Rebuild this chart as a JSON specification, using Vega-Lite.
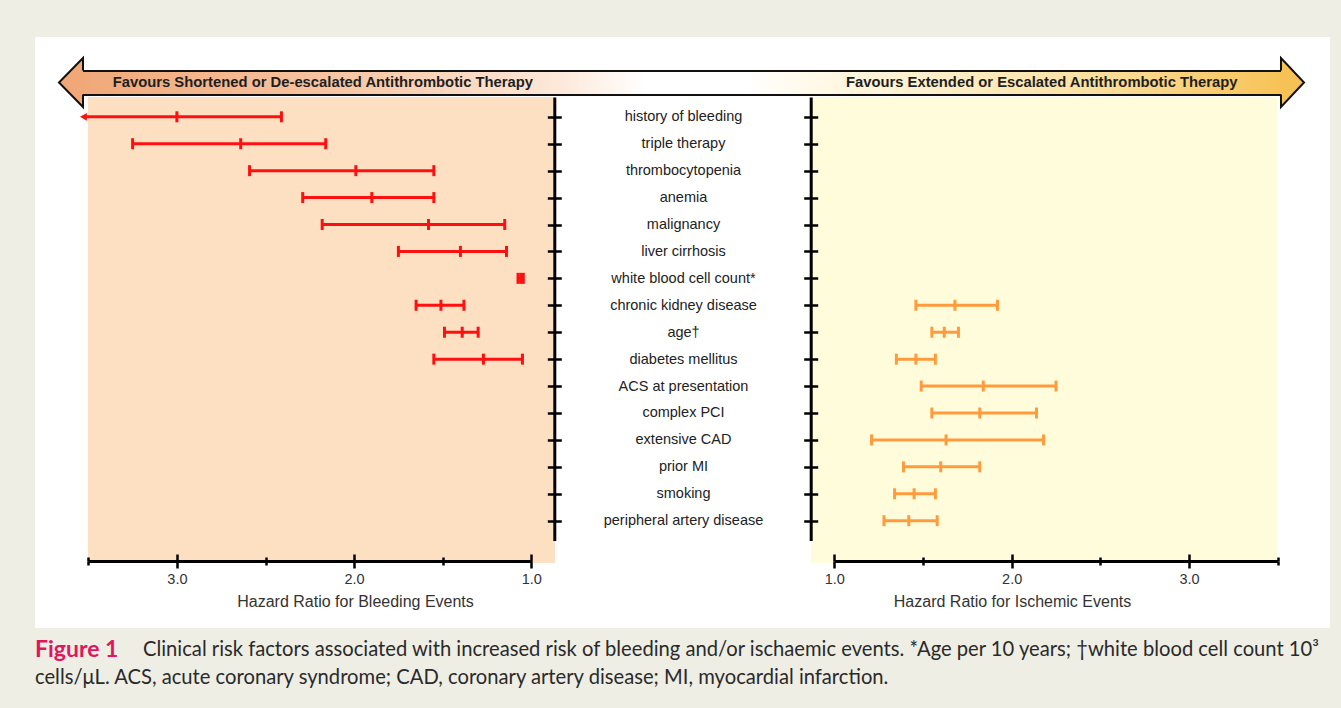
{
  "$schema": "https://vega.github.io/schema/vega-lite/v6.json",
  "width": 1295,
  "height": 591,
  "autosize": {"type": "none"},
  "padding": {"left": 35, "top": 37, "right": 11, "bottom": 80},
  "background": "#EEEEE5",
  "config": {
    "view": {"fill": "white", "stroke": null},
    "font": "Liberation Sans",
    "axis": {"grid": false, "labelFont": "Liberation Sans", "titleFont": "Liberation Sans", "labelOverlap": false, "labelFlush": false}
  },
  "data": {
    "values": [
      {"factor": "history of bleeding", "outcome": "bleeding", "hr": 3.0, "lower": 2.41, "upper": 3.53, "upper_offscale": true},
      {"factor": "triple therapy", "outcome": "bleeding", "hr": 2.64, "lower": 2.16, "upper": 3.25},
      {"factor": "thrombocytopenia", "outcome": "bleeding", "hr": 1.99, "lower": 1.55, "upper": 2.59},
      {"factor": "anemia", "outcome": "bleeding", "hr": 1.9, "lower": 1.55, "upper": 2.29},
      {"factor": "malignancy", "outcome": "bleeding", "hr": 1.58, "lower": 1.15, "upper": 2.18},
      {"factor": "liver cirrhosis", "outcome": "bleeding", "hr": 1.4, "lower": 1.14, "upper": 1.75},
      {"factor": "white blood cell count*", "outcome": "bleeding", "hr": 1.06, "lower": 1.045, "upper": 1.075},
      {"factor": "chronic kidney disease", "outcome": "bleeding", "hr": 1.51, "lower": 1.38, "upper": 1.65},
      {"factor": "age†", "outcome": "bleeding", "hr": 1.39, "lower": 1.3, "upper": 1.49},
      {"factor": "diabetes mellitus", "outcome": "bleeding", "hr": 1.27, "lower": 1.05, "upper": 1.55},
      {"factor": "chronic kidney disease", "outcome": "ischemic", "hr": 1.68, "lower": 1.46, "upper": 1.92},
      {"factor": "age†", "outcome": "ischemic", "hr": 1.62, "lower": 1.55, "upper": 1.7},
      {"factor": "diabetes mellitus", "outcome": "ischemic", "hr": 1.46, "lower": 1.35, "upper": 1.57},
      {"factor": "ACS at presentation", "outcome": "ischemic", "hr": 1.84, "lower": 1.49, "upper": 2.25},
      {"factor": "complex PCI", "outcome": "ischemic", "hr": 1.82, "lower": 1.55, "upper": 2.14},
      {"factor": "extensive CAD", "outcome": "ischemic", "hr": 1.63, "lower": 1.21, "upper": 2.18},
      {"factor": "prior MI", "outcome": "ischemic", "hr": 1.6, "lower": 1.39, "upper": 1.82},
      {"factor": "smoking", "outcome": "ischemic", "hr": 1.45, "lower": 1.34, "upper": 1.57},
      {"factor": "peripheral artery disease", "outcome": "ischemic", "hr": 1.42, "lower": 1.28, "upper": 1.58}
    ]
  },
  "resolve": {"scale": {"x": "independent", "y": "independent"}, "axis": {"x": "independent", "y": "independent"}},
  "layer": [
    {
      "data": {"values": [{}]},
      "layer": [
        {
          "mark": {"type": "rect", "fill": "#FDDFC2"},
          "encoding": {
            "x": {"datum": 0.04093, "type": "quantitative", "scale": {"domain": [0, 1], "range": [0, 1295]}, "axis": null},
            "x2": {"datum": 0.40154},
            "y": {"datum": 0.10152, "type": "quantitative", "scale": {"domain": [0, 1], "range": [0, 591]}, "axis": null},
            "y2": {"datum": 0.89002}
          }
        },
        {
          "mark": {"type": "rect", "fill": "#FFFCDC"},
          "encoding": {
            "x": {"datum": 0.59923, "type": "quantitative", "scale": {"domain": [0, 1], "range": [0, 1295]}, "axis": null},
            "x2": {"datum": 0.95907},
            "y": {"datum": 0.10152, "type": "quantitative", "scale": {"domain": [0, 1], "range": [0, 591]}, "axis": null},
            "y2": {"datum": 0.89002}
          }
        },
        {
          "mark": {
            "type": "rect",
            "stroke": "#111111",
            "strokeWidth": 2,
            "fill": {
              "gradient": "linear", "x1": 0, "y1": 0, "x2": 1, "y2": 0,
              "stops": [
                {"offset": 0, "color": "#F0A878"},
                {"offset": 0.2, "color": "#F6C3A0"},
                {"offset": 0.4, "color": "#FDE9DB"},
                {"offset": 0.47, "color": "#FFFFFF"},
                {"offset": 0.55, "color": "#FFFFFF"},
                {"offset": 0.62, "color": "#FFF8E4"},
                {"offset": 0.82, "color": "#FBE3A8"},
                {"offset": 1, "color": "#F7C255"}
              ]
            }
          },
          "encoding": {
            "x": {"datum": 0.03475, "type": "quantitative", "scale": {"domain": [0, 1], "range": [0, 1295]}, "axis": null},
            "x2": {"datum": 0.96602},
            "y": {"datum": 0.05753, "type": "quantitative", "scale": {"domain": [0, 1], "range": [0, 591]}, "axis": null},
            "y2": {"datum": 0.09814}
          }
        },
        {
          "mark": {"type": "point", "shape": "M0.49,-0.49L0.49,-1L-0.49,0L0.49,1L0.49,0.49", "size": 2401, "filled": true, "fill": "#F0A878", "stroke": "#111111", "strokeWidth": 2, "opacity": 1, "strokeJoin": "miter"},
          "encoding": {
            "x": {"datum": 0.0278, "type": "quantitative", "scale": {"domain": [0, 1], "range": [0, 1295]}, "axis": null},
            "y": {"datum": 0.07699, "type": "quantitative", "scale": {"domain": [0, 1], "range": [0, 591]}, "axis": null}
          }
        },
        {
          "mark": {"type": "point", "shape": "M-0.47,-0.49L-0.47,-1L0.47,0L-0.47,1L-0.47,0.49", "size": 2401, "filled": true, "fill": "#F7C255", "stroke": "#111111", "strokeWidth": 2, "opacity": 1, "strokeJoin": "miter"},
          "encoding": {
            "x": {"datum": 0.97104, "type": "quantitative", "scale": {"domain": [0, 1], "range": [0, 1295]}, "axis": null},
            "y": {"datum": 0.07699, "type": "quantitative", "scale": {"domain": [0, 1], "range": [0, 591]}, "axis": null}
          }
        },
        {
          "mark": {"type": "text", "text": "Favours Shortened or De-escalated Antithrombotic Therapy", "font": "Liberation Sans", "fontWeight": "bold", "fontSize": 14.8, "color": "#1E1E1E", "align": "center", "baseline": "middle"},
          "encoding": {
            "x": {"datum": 0.2223, "type": "quantitative", "scale": {"domain": [0, 1], "range": [0, 1295]}, "axis": null},
            "y": {"datum": 0.07783, "type": "quantitative", "scale": {"domain": [0, 1], "range": [0, 591]}, "axis": null}
          }
        },
        {
          "mark": {"type": "text", "text": "Favours Extended or Escalated Antithrombotic Therapy", "font": "Liberation Sans", "fontWeight": "bold", "fontSize": 14.8, "color": "#1E1E1E", "align": "center", "baseline": "middle"},
          "encoding": {
            "x": {"datum": 0.7774, "type": "quantitative", "scale": {"domain": [0, 1], "range": [0, 1295]}, "axis": null},
            "y": {"datum": 0.07783, "type": "quantitative", "scale": {"domain": [0, 1], "range": [0, 591]}, "axis": null}
          }
        },
        {
          "mark": {"type": "text", "text": "Figure 1", "font": "Lato", "fontWeight": "bold", "fontSize": 23, "color": "#E2165C", "align": "left", "baseline": "middle"},
          "encoding": {
            "x": {"datum": 0.0, "type": "quantitative", "scale": {"domain": [0, 1], "range": [0, 1295]}, "axis": null},
            "y": {"datum": 1.0372, "type": "quantitative", "scale": {"domain": [0, 1], "range": [0, 591]}, "axis": null}
          }
        },
        {
          "mark": {"type": "text", "text": "Clinical risk factors associated with increased risk of bleeding and/or ischaemic events. *Age per 10 years; †white blood cell count 10³", "font": "Lato", "fontSize": 20.2, "color": "#2A2A2A", "align": "left", "baseline": "middle"},
          "encoding": {
            "x": {"datum": 0.0834, "type": "quantitative", "scale": {"domain": [0, 1], "range": [0, 1295]}, "axis": null},
            "y": {"datum": 1.0372, "type": "quantitative", "scale": {"domain": [0, 1], "range": [0, 591]}, "axis": null}
          }
        },
        {
          "mark": {"type": "text", "text": "cells/μL. ACS, acute coronary syndrome; CAD, coronary artery disease; MI, myocardial infarction.", "font": "Lato", "fontSize": 20.2, "color": "#2A2A2A", "align": "left", "baseline": "middle"},
          "encoding": {
            "x": {"datum": 0.0, "type": "quantitative", "scale": {"domain": [0, 1], "range": [0, 1295]}, "axis": null},
            "y": {"datum": 1.0846, "type": "quantitative", "scale": {"domain": [0, 1], "range": [0, 591]}, "axis": null}
          }
        }
      ]
    },
    {
      "transform": [{"filter": "datum.outcome === 'bleeding'"}],
      "resolve": {"axis": {"x": "independent", "y": "independent"}},
      "layer": [
        {
          "mark": {"type": "rule", "color": "#FF1010", "strokeWidth": 3},
          "encoding": {
            "x": {
              "field": "lower", "type": "quantitative",
              "scale": {"domain": [3.5, 1.0], "range": [53.3, 496.3], "zero": false, "nice": false},
              "axis": {
                "zindex": 1,
                "orient": "bottom", "offset": -67, "values": [3.5, 3, 2.5, 2, 1.5, 1],
                "labelExpr": "datum.value % 1 == 0 ? format(datum.value, '.1f') : ''",
                "domainColor": "#000000", "domainWidth": 3,
                "tickColor": "#000000", "tickWidth": 2.5,
                "tickSize": {"condition": {"test": "datum.value % 1 == 0", "value": 7}, "value": 4},
                "labelFontSize": 14.5, "labelColor": "#333333", "labelPadding": 4,
                "title": "Hazard Ratio for Bleeding Events", "titleFontSize": 16, "titleFontWeight": "normal", "titleColor": "#333333",
                "titleX": 320, "titleY": 40, "titleBaseline": "middle", "titleAlign": "center"
              }
            },
            "x2": {"field": "upper"},
            "y": {
              "field": "factor", "type": "nominal",
              "scale": {"type": "point", "domain": ["history of bleeding", "triple therapy", "thrombocytopenia", "anemia", "malignancy", "liver cirrhosis", "white blood cell count*", "chronic kidney disease", "age†", "diabetes mellitus", "ACS at presentation", "complex PCI", "extensive CAD", "prior MI", "smoking", "peripheral artery disease"], "range": [60, 503.5], "padding": 0.735},
              "axis": {"zindex": 1, "orient": "left", "offset": -519.3, "domain": true, "domainColor": "#000000", "domainWidth": 3, "ticks": true, "tickSize": 7, "tickWidth": 2.5, "tickColor": "#000000", "labels": false, "title": null}
            }
          }
        },
        {
          "mark": {"type": "tick", "color": "#FF1010", "thickness": 3, "size": 11, "opacity": 1},
          "encoding": {
            "x": {
              "field": "lower", "type": "quantitative",
              "axis": {
                "zindex": 1,
                "orient": "top", "offset": -524, "values": [3.5, 3, 2.5, 2, 1.5, 1], "labels": false, "domain": false,
                "tickColor": "#000000", "tickWidth": 2.5,
                "tickSize": {"condition": {"test": "datum.value % 1 == 0", "value": 7}, "value": 4},
                "title": null
              }
            },
            "y": {
              "field": "factor", "type": "nominal",
              "axis": {"zindex": 1, "orient": "right", "offset": -775.7, "domain": false, "ticks": true, "tickSize": 7, "tickWidth": 2.5, "tickColor": "#000000", "labels": false, "title": null}
            }
          }
        },
        {
          "transform": [{"filter": "!datum.upper_offscale"}],
          "mark": {"type": "tick", "color": "#FF1010", "thickness": 3, "size": 11, "opacity": 1},
          "encoding": {
            "x": {"field": "upper", "type": "quantitative", "axis": null},
            "y": {"field": "factor", "type": "nominal", "axis": null}
          }
        },
        {
          "mark": {"type": "tick", "color": "#FF1010", "thickness": 3, "size": 11, "opacity": 1},
          "encoding": {
            "x": {"field": "hr", "type": "quantitative", "axis": null},
            "y": {"field": "factor", "type": "nominal", "axis": null}
          }
        },
        {
          "transform": [{"filter": "datum.upper_offscale"}],
          "mark": {"type": "point", "shape": "M-1,0L1.3,-1.3L1.3,1.3Z", "size": 36, "filled": true, "color": "#FF1010", "opacity": 1},
          "encoding": {
            "x": {"field": "upper", "type": "quantitative", "axis": null},
            "y": {"field": "factor", "type": "nominal", "axis": null}
          }
        }
      ]
    },
    {
      "transform": [{"filter": "datum.outcome === 'ischemic'"}],
      "resolve": {"axis": {"x": "independent", "y": "independent"}},
      "layer": [
        {
          "mark": {"type": "rule", "color": "#FF9B3D", "strokeWidth": 3},
          "encoding": {
            "x": {
              "field": "lower", "type": "quantitative",
              "scale": {"domain": [1.0, 3.5], "range": [799.3, 1242.7], "zero": false, "nice": false},
              "axis": {
                "zindex": 1,
                "orient": "bottom", "offset": -67, "values": [1, 1.5, 2, 2.5, 3, 3.5],
                "labelExpr": "datum.value % 1 == 0 ? format(datum.value, '.1f') : ''",
                "domainColor": "#000000", "domainWidth": 3,
                "tickColor": "#000000", "tickWidth": 2.5,
                "tickSize": {"condition": {"test": "datum.value % 1 == 0", "value": 7}, "value": 4},
                "labelFontSize": 14.5, "labelColor": "#333333", "labelPadding": 4,
                "title": "Hazard Ratio for Ischemic Events", "titleFontSize": 16, "titleFontWeight": "normal", "titleColor": "#333333",
                "titleX": 977, "titleY": 40, "titleBaseline": "middle", "titleAlign": "center"
              }
            },
            "x2": {"field": "upper"},
            "y": {
              "field": "factor", "type": "nominal",
              "scale": {"type": "point", "domain": ["history of bleeding", "triple therapy", "thrombocytopenia", "anemia", "malignancy", "liver cirrhosis", "white blood cell count*", "chronic kidney disease", "age†", "diabetes mellitus", "ACS at presentation", "complex PCI", "extensive CAD", "prior MI", "smoking", "peripheral artery disease"], "range": [60, 503.5], "padding": 0.735},
              "axis": {"zindex": 1, "orient": "left", "offset": -775.7, "domain": true, "domainColor": "#000000", "domainWidth": 3, "ticks": true, "tickSize": 7, "tickWidth": 2.5, "tickColor": "#000000", "labels": true, "labelAlign": "center", "labelBaseline": "middle", "labelPadding": 120.7, "labelFontSize": 14.5, "labelColor": "#222222", "labelLimit": 400, "title": null}
            }
          }
        },
        {
          "mark": {"type": "tick", "color": "#FF9B3D", "thickness": 3, "size": 11, "opacity": 1},
          "encoding": {
            "x": {
              "field": "lower", "type": "quantitative",
              "axis": {
                "zindex": 1,
                "orient": "top", "offset": -524, "values": [1, 1.5, 2, 2.5, 3, 3.5], "labels": false, "domain": false,
                "tickColor": "#000000", "tickWidth": 2.5,
                "tickSize": {"condition": {"test": "datum.value % 1 == 0", "value": 7}, "value": 4},
                "title": null
              }
            },
            "y": {
              "field": "factor", "type": "nominal",
              "axis": {"zindex": 1, "orient": "right", "offset": -519.3, "domain": false, "ticks": true, "tickSize": 7, "tickWidth": 2.5, "tickColor": "#000000", "labels": false, "title": null}
            }
          }
        },
        {
          "mark": {"type": "tick", "color": "#FF9B3D", "thickness": 3, "size": 11, "opacity": 1},
          "encoding": {
            "x": {"field": "upper", "type": "quantitative", "axis": null},
            "y": {"field": "factor", "type": "nominal", "axis": null}
          }
        },
        {
          "mark": {"type": "tick", "color": "#FF9B3D", "thickness": 3, "size": 11, "opacity": 1},
          "encoding": {
            "x": {"field": "hr", "type": "quantitative", "axis": null},
            "y": {"field": "factor", "type": "nominal", "axis": null}
          }
        }
      ]
    }
  ]
}
